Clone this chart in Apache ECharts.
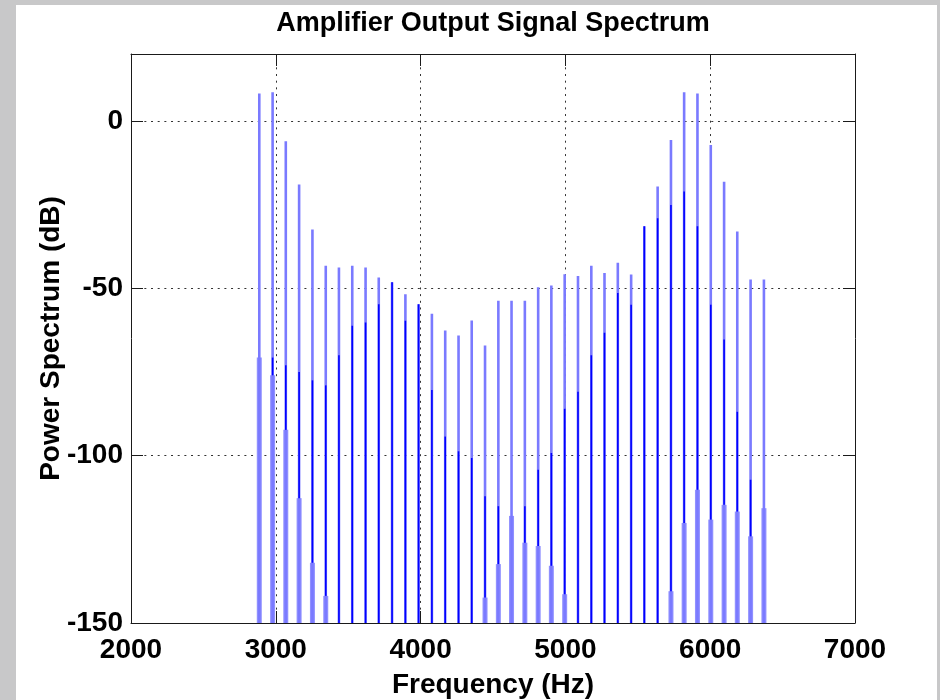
<!DOCTYPE html>
<html>
<head>
<meta charset="utf-8">
<script src="https://cdn.jsdelivr.net/npm/echarts@6/dist/echarts.min.js"></script>
<style>
  html, body { margin: 0; padding: 0; width: 940px; height: 700px; background: #c8c8c9; overflow: hidden; }
  #chart { position: absolute; left: 16px; top: 5px; width: 921px; height: 695px; background: #ffffff; }
</style>
</head>
<body>
<div id="chart"></div>
<script>
// ---- data ----
const xTicks = [2000, 3000, 4000, 5000, 6000, 7000];
const yTicks = [-150, -100, -50, 0];
const freqs = [2886, 2978, 3069, 3161, 3253, 3345, 3436, 3528, 3620, 3711, 3803, 3895, 3986, 4078, 4170, 4262, 4353, 4445, 4537, 4628,
               4720, 4812, 4903, 4995, 5087, 5179, 5270, 5362, 5454, 5545, 5637, 5729, 5820, 5912, 6004, 6096, 6187, 6279, 6371];
const peakDb = [8.2, 8.6, -6.1, -19.0, -32.4, -43.3, -43.8, -43.3, -43.8, -46.8, -48.2, -51.8, -54.8, -57.6, -62.6, -64.1, -59.6, -67.1, -53.7, -53.7,
                -53.7, -49.7, -49.2, -45.8, -46.3, -43.3, -45.4, -42.4, -45.9, -31.5, -19.6, -5.7, 8.6, 8.2, -7.2, -18.2, -33.0, -47.4, -47.4];
const darkTopDb = [null, -70.7, -73.0, -75.0, -77.5, -79.0, -70.0, -61.2, -60.2, -54.8, -48.2, -59.7, -54.8, -80.4, -94.3, -98.7, -100.7, -112.1, -115.1, null,
                   -115.1, -104.2, -99.2, -86.0, -80.9, -70.0, -63.3, -51.4, -54.9, -31.5, -29.1, -25.1, -21.1, -31.5, -54.9, -65.3, -86.9, -107.2, null];
const darkBottomDb = [null, -76.0, -92.3, -112.7, -132.0, -141.9, -150, -150, -150, -150, -150, -150, -150, -150, -150, -150, -150, -142.4, -132.4, null,
                      -126.0, -127.0, -132.9, -141.4, -150, -150, -150, -150, -150, -150, -150, -140.5, -120.1, -110.2, -119.1, -114.7, -116.7, -124.1, null];
const wideTopDb = [-70.7, -76.0, -92.3, -112.7, -132.0, -141.9, null, null, null, null, null, null, null, null, null, null, null, -142.4, -132.4, -118.0,
                   -126.0, -127.0, -132.9, -141.4, null, null, null, null, null, null, null, -140.5, -120.1, -110.2, -119.1, -114.7, -116.7, -124.1, -115.7];
const xMin = 2000, xMax = 7000, xStep = 1000;
const yMin = -150, yMax = 20, yStep = 50;

const FONT = "'Liberation Sans', Arial, Helvetica, sans-serif";
const chart = echarts.init(document.getElementById('chart'), null, { renderer: 'canvas' });

const axisLineStyle = { color: '#1a1a1a', width: 1 };
const gridDots = { color: '#333', width: 1, type: [2, 4.67] };

function renderStem(params, api) {
  const i = params.dataIndex;
  const f = api.value(0);
  const children = [];
  const base = api.coord([f, yMin]);
  if (wideTopDb[i] !== null) {
    const t = api.coord([f, wideTopDb[i]]);
    children.push({ type: 'line', shape: { x1: base[0], y1: base[1], x2: t[0], y2: t[1] },
      style: { stroke: '#9090ff', lineWidth: 5 } });
  }
  const p = api.coord([f, api.value(1)]);
  children.push({ type: 'line', shape: { x1: base[0], y1: base[1], x2: p[0], y2: p[1] },
    style: { stroke: '#7a7aff', lineWidth: 2.6 } });
  if (darkTopDb[i] !== null) {
    const a = api.coord([f, darkTopDb[i]]);
    const b = api.coord([f, darkBottomDb[i]]);
    children.push({ type: 'line', shape: { x1: b[0], y1: b[1], x2: a[0], y2: a[1] },
      style: { stroke: '#0000ff', lineWidth: 1.6 } });
  }
  return { type: 'group', children: children };
}

const labelFont = { fontFamily: FONT, fontSize: 28, fontWeight: 'bold', color: '#000' };

const option = {
  backgroundColor: '#ffffff',
  animation: false,
  title: {
    text: 'Amplifier Output Signal Spectrum',
    left: 477, top: 5, textAlign: 'center', padding: 0,
    textStyle: { fontFamily: FONT, fontSize: 27, fontWeight: 'bold', color: '#000' }
  },
  grid: { left: 115, top: 49, right: 82, bottom: 77, containLabel: false, outerBoundsMode: 'none' },
  xAxis: [
    {
      type: 'value', min: xMin, max: xMax, interval: xStep, position: 'bottom',
      name: 'Frequency (Hz)', nameLocation: 'middle', nameGap: 48, nameMoveOverlap: false,
      nameTextStyle: labelFont,
      axisLine: { show: true, onZero: false, lineStyle: axisLineStyle },
      axisTick: { show: true, inside: true, length: 12, lineStyle: axisLineStyle },
      axisLabel: Object.assign({ margin: 13, formatter: v => (xTicks.indexOf(v) >= 0 ? String(v) : '') }, labelFont),
      splitLine: { show: true, lineStyle: gridDots }
    },
    {
      type: 'value', min: xMin, max: xMax, interval: xStep, position: 'top',
      axisLine: { show: true, onZero: false, lineStyle: axisLineStyle },
      axisTick: { show: true, inside: true, length: 12, lineStyle: axisLineStyle },
      axisLabel: { show: false }, splitLine: { show: false }
    }
  ],
  yAxis: [
    {
      type: 'value', min: yMin, max: yMax, interval: yStep, position: 'left',
      name: 'Power Spectrum (dB)', nameLocation: 'middle', nameGap: 66, nameRotate: 90, nameMoveOverlap: false,
      nameTextStyle: labelFont,
      axisLine: { show: true, onZero: false, lineStyle: axisLineStyle },
      axisTick: { show: true, inside: true, length: 12, lineStyle: axisLineStyle },
      axisLabel: Object.assign({ margin: 8, formatter: v => (yTicks.indexOf(v) >= 0 ? String(v) : '') }, labelFont),
      splitLine: { show: true, lineStyle: gridDots }
    },
    {
      type: 'value', min: yMin, max: yMax, interval: yStep, position: 'right',
      axisLine: { show: true, onZero: false, lineStyle: axisLineStyle },
      axisTick: { show: true, inside: true, length: 12, lineStyle: axisLineStyle },
      axisLabel: { show: false }, splitLine: { show: false }
    }
  ],
  series: [
    {
      type: 'custom',
      xAxisIndex: 0, yAxisIndex: 0,
      renderItem: renderStem,
      encode: { x: 0, y: 1 },
      data: freqs.map((f, i) => [f, peakDb[i]]),
      z: 3
    }
  ]
};
chart.setOption(option);
</script>
</body>
</html>
